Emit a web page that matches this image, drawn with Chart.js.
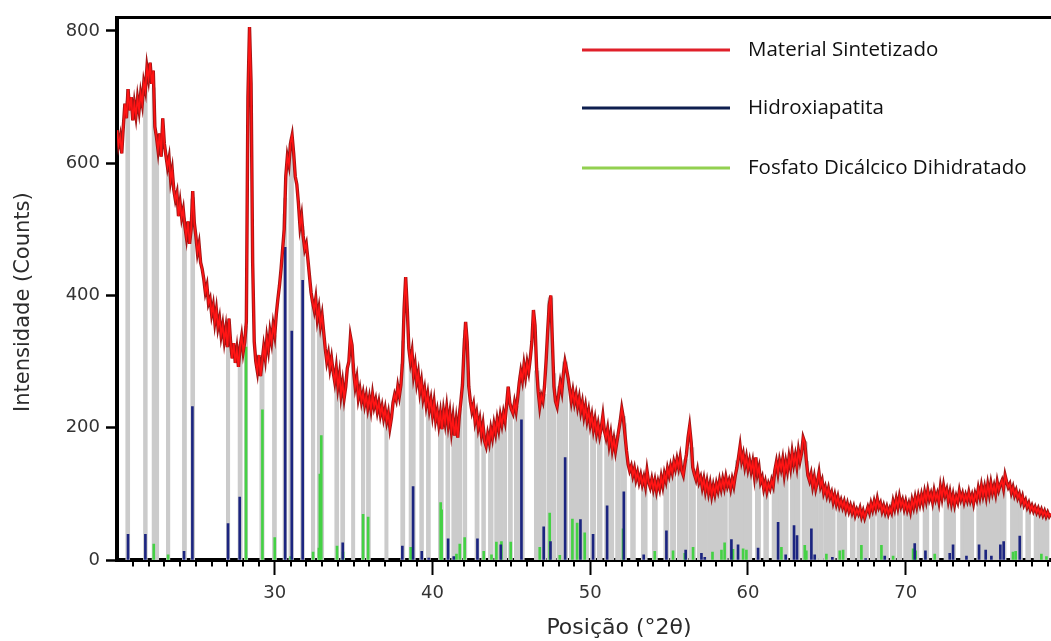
<!DOCTYPE html>
<html>
<head>
<meta charset="utf-8">
<script src="https://cdn.jsdelivr.net/npm/chart.js@4.4.1/dist/chart.umd.min.js"></script>
<style>
html,body{margin:0;padding:0;background:#fff;overflow:hidden}
#wrap{position:relative;width:1051px;height:641px}
</style>
</head>
<body>
<div id="wrap"><canvas id="c" width="1051" height="641"></canvas></div>
<script>
// ---------------- DATA ----------------
const seriesNames = ['Material Sintetizado', 'Hidroxiapatita', 'Fosfato Dicálcico Dihidratado'];

// Measured pattern: counts every 0.1 °2θ starting at 20.0
const xStart = 20.0;
const xStep = 0.1;
const xrdCounts = [
  650,628,640,615,655,690,668,712,680,700,
  665,690,672,698,680,705,690,722,710,745,
  728,752,720,740,655,640,620,645,610,668,
  630,612,595,608,575,590,560,545,555,520,
  540,518,530,505,488,512,478,500,558,510,
  490,465,478,450,440,425,405,415,388,395,
  372,385,360,378,352,365,340,355,332,350,
  322,365,330,305,328,298,318,292,322,338,
  315,330,360,700,806,720,450,330,300,285,
  310,278,300,322,305,335,318,345,330,355,
  340,372,395,415,440,470,500,580,610,598,
  630,642,615,580,568,540,505,520,490,470,
  478,455,430,405,390,378,395,365,380,355,
  370,345,320,300,312,290,305,285,270,290,
  262,280,250,268,245,262,290,300,338,325,
  285,262,275,245,258,240,252,235,248,230,
  245,228,250,232,242,225,238,220,232,215,
  228,210,222,200,215,238,250,242,262,248,
  265,300,380,428,380,320,300,315,280,295,
  268,282,255,270,245,258,235,250,228,242,
  220,238,212,225,205,222,198,225,208,230,
  205,222,195,215,188,210,185,218,240,265,
  320,360,330,262,240,225,235,210,222,200,
  212,190,205,180,172,190,178,198,185,205,
  192,212,198,218,205,222,210,235,262,238,
  228,222,238,225,245,268,285,272,295,278,
  298,285,305,330,378,355,290,255,232,248,
  240,262,300,345,385,400,330,262,240,232,
  250,268,255,282,300,288,275,258,240,255,
  238,250,232,245,225,238,218,232,212,225,
  205,218,198,212,192,205,188,200,218,195,
  185,198,175,190,168,182,165,180,195,210,
  229,215,190,165,145,135,142,128,138,122,
  132,118,128,115,125,112,135,118,110,122,
  108,120,105,118,108,125,112,130,120,138,
  128,142,132,148,138,152,140,155,135,128,
  145,160,185,202,178,140,130,122,135,118,
  125,110,122,105,118,102,115,98,112,100,
  115,105,120,108,122,110,125,112,120,108,
  122,112,128,140,155,172,150,160,142,155,
  138,150,135,148,128,155,130,140,118,125,
  108,118,104,115,108,120,112,135,148,132,
  150,138,152,130,148,135,155,140,162,145,
  158,142,165,150,162,185,178,150,128,120,
  130,112,125,108,118,132,112,120,102,110,
  98,108,95,102,88,98,85,95,82,90,
  80,88,76,85,74,82,72,80,68,76,
  70,78,66,74,64,72,80,72,85,76,
  88,78,92,80,86,74,82,72,80,70,
  78,72,88,78,92,80,95,82,90,78,
  88,76,85,74,90,80,94,82,96,85,
  98,86,102,90,105,92,100,88,104,92,
  100,88,110,95,112,98,106,90,102,86,
  98,84,96,88,104,92,100,88,98,90,
  102,90,98,86,100,92,108,96,112,98,
  110,96,114,100,116,102,112,100,118,106,
  114,120,108,128,118,110,115,102,110,98,
  105,94,100,88,96,84,90,80,86,76,
  82,74,80,72,78,70,76,68,74,66,
  72,66,70
];

// Reference pattern: Hidroxiapatita [position °2θ, intensity]
const hapPeaks = [
  [20.70,39],[21.80,39],[24.25,13],[24.78,232],[27.04,55],[27.78,95],
  [30.66,473],[31.08,346],[31.77,423],[34.31,26],[38.09,21],[38.77,111],
  [39.32,13],[39.76,3],[40.99,32],[41.35,5],[42.85,32],[44.33,23],
  [45.64,212],[47.05,50],[47.48,28],[48.41,155],[49.38,61],[50.18,39],
  [51.07,82],[52.13,103],[53.39,8],[54.83,44],[56.05,15],[57.05,10],
  [57.26,4],[58.95,31],[59.37,23],[60.64,18],[61.91,57],[62.39,8],
  [62.92,52],[63.11,37],[64.02,47],[64.23,8],[65.35,4],[67.46,2],
  [68.67,6],[70.57,25],[71.25,14],[72.79,10],[73.00,23],[73.85,6],
  [74.65,23],[75.07,15],[75.43,6],[76.00,23],[76.21,28],[77.23,36]
];

// Reference pattern: Fosfato Dicálcico Dihidratado [position °2θ, intensity]
const dcpdPeaks = [
  [22.33,24],[23.24,8],[28.18,322],[29.22,227],[30.00,34],
  [31.00,5],[32.43,12],[32.80,18],[32.86,130],[32.95,188],[33.95,21],
  [34.33,12],[35.60,69],[35.92,65],[38.62,19],[40.52,87],[40.58,76],
  [41.52,9],[41.73,24],[42.04,34],[43.25,13],[43.74,8],[44.05,27],
  [44.37,28],[44.96,27],[46.80,19],[47.43,71],[48.07,7],[48.87,62],
  [49.17,56],[49.65,41],[52.08,47],[54.09,13],[55.25,14],[55.99,10],
  [56.52,19],[57.75,12],[58.32,15],[58.52,26],[59.05,16],[59.69,17],
  [59.90,15],[62.12,19],[63.60,22],[63.70,14],[64.97,9],[65.82,14],
  [66.03,15],[67.19,22],[68.46,22],[69.20,6],[70.47,17],[70.63,14],
  [71.84,9],[76.80,12],[76.97,13],[78.60,9],[78.92,5]
];

// Gray drop lines under the pattern (positions, °2θ)
const grayLinePositions = [
  20.66,21.80,22.35,22.54,23.24,24.30,24.82,27.04,27.83,28.18,29.16,29.96,
  30.63,31.05,31.75,32.43,32.85,33.00,33.91,34.29,34.97,35.60,35.96,37.08,
  38.14,38.67,38.80,39.30,39.72,40.48,40.95,41.33,41.75,42.07,42.80,43.23,
  43.65,44.07,44.28,44.60,44.92,45.34,45.66,46.61,46.82,47.03,47.45,47.67,
  48.05,48.40,48.83,49.04,49.40,49.74,50.18,50.60,51.09,51.34,51.76,52.14,
  52.71,53.46,54.09,54.83,55.25,55.67,55.99,56.42,56.94,57.26,57.58,58.00,
  58.32,58.53,58.95,59.37,59.80,60.09,60.62,61.15,61.68,61.99,62.31,62.84,
  63.15,63.58,64.00,64.31,64.63,65.05,65.37,65.80,66.11,66.64,67.06,67.48,
  67.91,68.33,68.75,69.18,69.60,70.02,70.25,70.68,71.31,71.95,72.58,73.00,
  73.63,74.16,74.80,75.22,75.75,76.17,76.80,77.23,77.76,78.29,78.92
];

const xTickLabels = [30, 40, 50, 60, 70];
const yTickLabels = [0, 200, 400, 600, 800];
const xRange = [20, 79.21];
const yRange = [0, 820.4];

// ---------------- STYLE ----------------
const COLORS = {
  pattern: '#ff1414',
  patternEdge: '#a31414',
  hap: '#1c2580',
  dcpd: '#45d145',
  gray: '#cbcbcb',
  legend: ['#e0202a', '#0e1f4f', '#92d050']
};

const stripePlugin = {
  id: 'grayStripes',
  beforeDatasetsDraw(chart) {
    const {ctx, chartArea: a, scales: {x, y}} = chart;
    const pts = chart.getDatasetMeta(0).data;
    const base = y.getPixelForValue(0);
    const positions = grayLinePositions
      .concat(hapPeaks.map(p => p[0]))
      .concat(dcpdPeaks.map(p => p[0]));
    ctx.save();
    ctx.beginPath();
    ctx.rect(a.left, a.top, a.right - a.left, a.bottom - a.top);
    ctx.clip();
    ctx.strokeStyle = COLORS.gray;
    positions.forEach(v => {
      const px = x.getPixelForValue(v);
      let top = base;
      for (let i = 1; i < pts.length; i++) {
        if (pts[i].x >= px) {
          const p0 = pts[i - 1], p1 = pts[i];
          const t = (px - p0.x) / ((p1.x - p0.x) || 1);
          top = p0.y + t * (p1.y - p0.y);
          break;
        }
      }
      ctx.lineWidth = v < 45 ? 4 : 5.5;
      ctx.beginPath();
      ctx.moveTo(px, base);
      ctx.lineTo(px, top);
      ctx.stroke();
    });
    ctx.restore();
  },
  beforeDatasetDraw(chart, args) {
    if (args.index !== 0) return;
    const {ctx, chartArea: a} = chart;
    const pts = args.meta.data;
    ctx.save();
    ctx.beginPath();
    ctx.rect(a.left, a.top, a.right - a.left, a.bottom - a.top);
    ctx.clip();
    ctx.beginPath();
    pts.forEach((p, i) => i ? ctx.lineTo(p.x, p.y) : ctx.moveTo(p.x, p.y));
    ctx.strokeStyle = COLORS.patternEdge;
    ctx.lineWidth = 3.4;
    ctx.lineJoin = 'miter';
    ctx.stroke();
    ctx.restore();
  }
};

const framePlugin = {
  id: 'frame',
  afterDraw(chart) {
    const {ctx, chartArea: a, scales: {x}} = chart;
    ctx.save();
    // top frame line
    ctx.strokeStyle = '#000';
    ctx.lineWidth = 3;
    ctx.beginPath();
    ctx.moveTo(a.left - 2, a.top);
    ctx.lineTo(a.right, a.top);
    ctx.stroke();
    // minor x ticks every 1 °2θ
    ctx.lineWidth = 2;
    for (let v = Math.ceil(x.min); v <= Math.floor(x.max); v++) {
      if (v % 10 === 0) continue;
      const px = Math.round(x.getPixelForValue(v));
      ctx.beginPath();
      ctx.moveTo(px, a.bottom);
      ctx.lineTo(px, a.bottom + 6.5);
      ctx.stroke();
    }
    // legend
    const rows = [50, 108, 168];
    chart.data.datasets.forEach((ds, i) => {
      ctx.strokeStyle = COLORS.legend[i];
      ctx.lineWidth = 3;
      ctx.beginPath();
      ctx.moveTo(582, rows[i]);
      ctx.lineTo(730, rows[i]);
      ctx.stroke();
      ctx.fillStyle = '#111';
      ctx.font = '20.5px "Open Sans"';
      ctx.textBaseline = 'middle';
      ctx.textAlign = 'left';
      ctx.fillText(ds.label, 748, rows[i]);
    });
    ctx.restore();
  }
};

const tickFont = {family: '"DejaVu Sans"', size: 18};

new Chart(document.getElementById('c').getContext('2d'), {
  type: 'line',
  data: {
    datasets: [
      {
        type: 'line',
        label: seriesNames[0],
        data: xrdCounts.map((v, i) => ({x: +(xStart + i * xStep).toFixed(2), y: v})),
        borderColor: COLORS.pattern,
        borderWidth: 1.6,
        pointRadius: 0,
        tension: 0,
        fill: false,
        order: 0
      },
      {
        type: 'bar',
        label: seriesNames[1],
        data: hapPeaks.map(p => ({x: p[0], y: p[1]})),
        backgroundColor: COLORS.hap,
        borderWidth: 0,
        barThickness: 2,
        grouped: false,
        order: 1
      },
      {
        type: 'bar',
        label: seriesNames[2],
        data: dcpdPeaks.map(p => ({x: p[0], y: p[1]})),
        backgroundColor: COLORS.dcpd,
        borderWidth: 0,
        barThickness: 2,
        grouped: false,
        order: 2
      }
    ]
  },
  options: {
    responsive: false,
    animation: false,
    devicePixelRatio: 1,
    layout: {padding: {top: 17.5, left: 0, right: 0, bottom: 0}, autoPadding: false},
    plugins: {legend: {display: false}, tooltip: {enabled: false}},
    scales: {
      x: {
        type: 'linear',
        min: xRange[0],
        max: xRange[1],
        offset: false,
        grid: {display: true, offset: false, drawOnChartArea: false, drawTicks: true, tickLength: 15, tickColor: '#000', tickWidth: 2},
        border: {display: true, color: '#000', width: 4},
        afterBuildTicks: s => { s.ticks = xTickLabels.map(v => ({value: v})); },
        ticks: {autoSkip: false, maxRotation: 0, minRotation: 0, padding: 7.5, color: '#333', font: tickFont},
        title: {
          display: true,
          text: '\u00a0'.repeat(10) + 'Posição (°2θ)',
          color: '#2b2b2b',
          font: {family: '"DejaVu Sans"', size: 22},
          padding: {top: 0, bottom: 0}
        },
        afterFit: s => { s.height = 81; }
      },
      y: {
        type: 'linear',
        min: yRange[0],
        max: yRange[1],
        grid: {display: true, offset: false, drawOnChartArea: false, drawTicks: true, tickLength: 11, tickColor: '#000', tickWidth: 2.5},
        border: {display: true, color: '#000', width: 4},
        afterBuildTicks: s => { s.ticks = yTickLabels.map(v => ({value: v})); },
        ticks: {padding: 6, color: '#333', font: tickFont},
        title: {
          display: true,
          text: 'Intensidade (Counts)' + '\u00a0'.repeat(4),
          color: '#2b2b2b',
          font: {family: '"DejaVu Sans"', size: 21},
          padding: {top: 10.5, bottom: 0}
        },
        afterFit: s => { s.width = 117; }
      }
    }
  },
  plugins: [stripePlugin, framePlugin]
});
</script>
</body>
</html>
